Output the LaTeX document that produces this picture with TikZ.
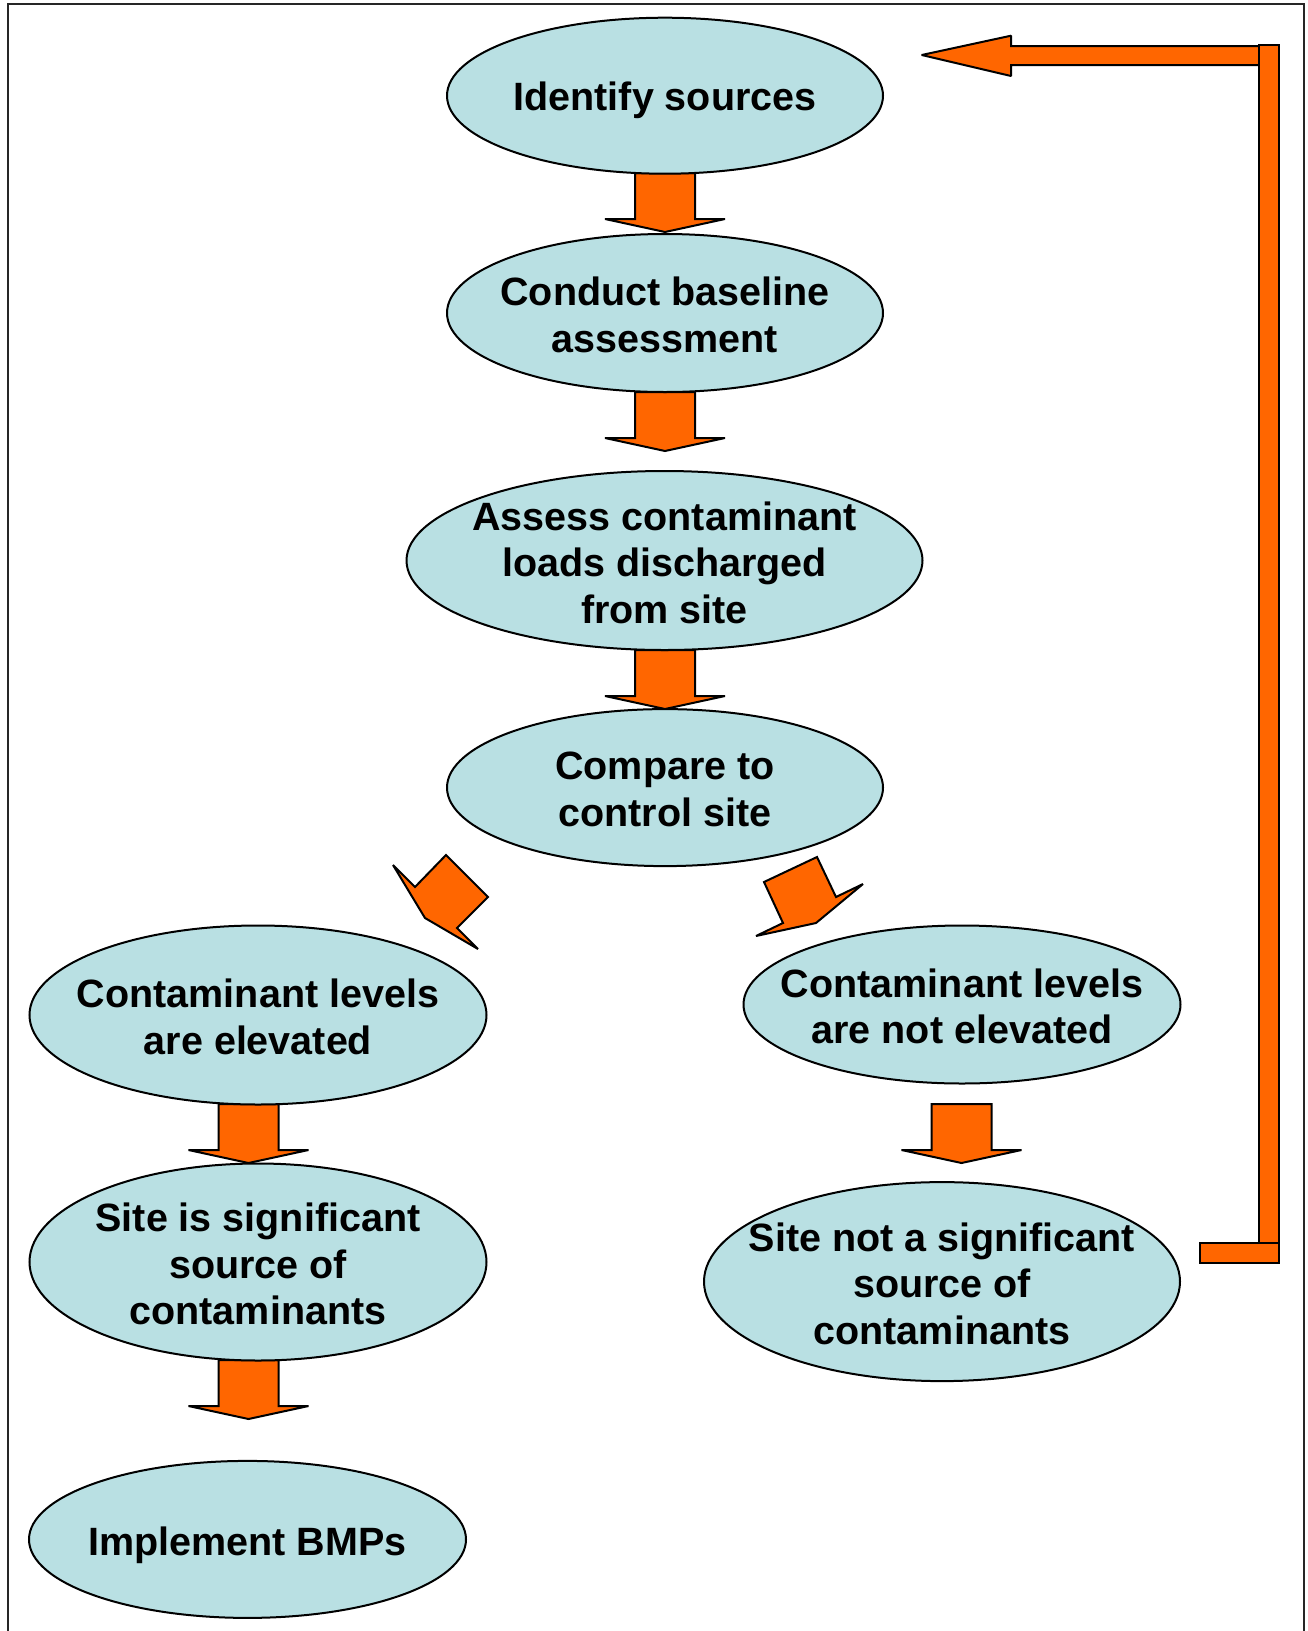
\documentclass[tikz,border=0pt]{standalone}
\usepackage{fontspec}
\setmainfont{Liberation Sans}
\usetikzlibrary{shapes.geometric}
\definecolor{bubblefill}{RGB}{185,224,227}
\definecolor{arroworange}{RGB}{255,102,0}
\begin{document}
\begin{tikzpicture}[x=1pt,y=-1pt,
  bubble/.style={ellipse, draw=black, line width=2, fill=bubblefill, inner sep=0},
  btext/.style={font=\fontsize{39.5}{46.5}\selectfont\bfseries, align=center, inner sep=0, yshift=-2},
  barrow/.style={draw=black, line width=2, fill=arroworange, line join=miter, miter limit=1.5},
  downarrow/.pic={\path[barrow] (-30,0) -- (30,0) -- (30,46) -- (60,46) -- (0,59) -- (-60,46) -- (-30,46) -- cycle;}]
\useasboundingbox (0,0) rectangle (1307,1631);
\fill[white] (0,0) rectangle (1307,1631);
% page frame
\draw[line width=2.5, black!85] (8,1631) -- (8,4) -- (1304,4) -- (1304,1631);

% block arrows between steps
\pic at (665,173) {downarrow};
\pic at (665,392) {downarrow};
\pic at (665,650) {downarrow};
\pic at (248.5,1104) {downarrow};
\pic at (248.5,1360) {downarrow};
\pic at (961.5,1104) {downarrow};
% diagonal arrows
\path[barrow] (393,865) -- (415,887) -- (446,855) -- (488,897) -- (457,928) -- (478,949) -- (425,918) -- cycle;
\path[barrow] (764,882) -- (817,857) -- (836,897) -- (863,884) -- (816,923) -- (756,936) -- (783,923) -- cycle;

% feedback arrow
\path[barrow] (921.7,55) -- (1011,35.7) -- (1011,46) -- (1259,46) -- (1259,65) -- (1011,65) -- (1011,76) -- cycle;
\path[barrow] (1259,44.5) rectangle (1279,1262.7);
\path[barrow] (1200,1243.3) rectangle (1279,1262.7);

% steps
\node[bubble, minimum width=436, minimum height=156, label={[btext, yshift=-3]center:Identify sources}] (n1) at (665,95.7) {};
\node[bubble, minimum width=436, minimum height=158, label={[btext]center:{Conduct baseline\\assessment}}] (n2) at (665,313) {};
\node[bubble, minimum width=516, minimum height=179, label={[btext]center:{Assess contaminant\\loads discharged\\from site}}] (n3) at (664.5,560.5) {};
\node[bubble, minimum width=436, minimum height=157, label={[btext]center:{Compare to\\control site}}] (n4) at (665,787.6) {};
\node[bubble, minimum width=457, minimum height=179, label={[btext]center:{Contaminant levels\\are elevated}}] (n5) at (258,1015) {};
\node[bubble, minimum width=437, minimum height=158, label={[btext]center:{Contaminant levels\\are not elevated}}] (n6) at (962,1004.5) {};
\node[bubble, minimum width=457, minimum height=197, label={[btext]center:{Site is significant\\source of\\contaminants}}] (n7) at (258,1262) {};
\node[bubble, minimum width=476, minimum height=199, label={[btext]center:{Site not a significant\\source of\\contaminants}}] (n8) at (942,1281.6) {};
\node[bubble, minimum width=437, minimum height=157, label={[btext, yshift=-4]center:Implement BMPs}] (n9) at (247.5,1539.4) {};
\end{tikzpicture}
\end{document}
